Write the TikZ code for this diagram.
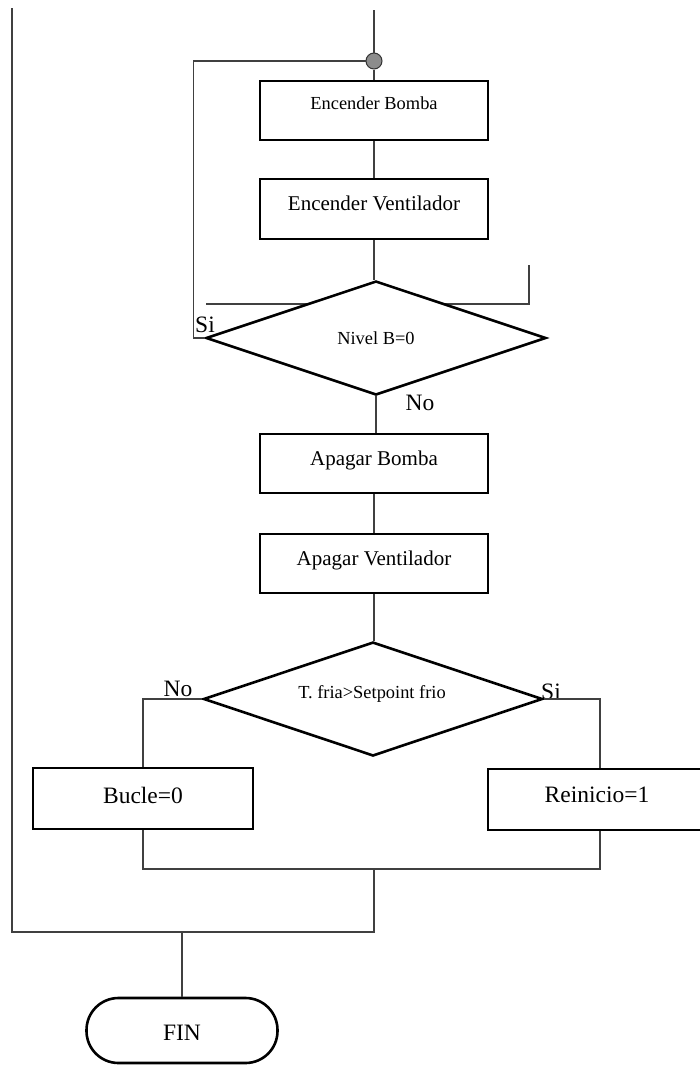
\documentclass[tikz,border=0pt]{standalone}
\usepackage{fontspec}
\setmainfont{Liberation Serif}
\usetikzlibrary{shapes.geometric}
\tikzset{
  box/.style={draw=black, line width=2.6pt, fill=white, inner sep=0pt, minimum width=228pt, minimum height=59pt},
  dec/.style={diamond, draw=black, line width=2.6pt, fill=white, inner sep=0pt, minimum width=340pt, minimum height=114pt, shape aspect=2.98},
  term/.style={draw=black, line width=2.6pt, fill=white, inner sep=0pt, rounded corners=32pt, minimum width=191pt, minimum height=65pt},
  conn/.style={draw=black!75, line width=1.4pt},
  txt/.style={inner sep=0pt, anchor=center},
  fa/.style={txt, font=\fontsize{18.4}{20}\selectfont},
  fb/.style={txt, font=\fontsize{21}{24}\selectfont},
  fc/.style={txt, font=\fontsize{23.5}{26}\selectfont},
  junction/.style={circle, draw=black!80, line width=1pt, fill=black!45, minimum size=16pt, inner sep=0pt}
}
\begin{document}
\begin{tikzpicture}[x=1pt,y=-1pt]
\useasboundingbox (0,0) rectangle (700,1066);
\clip (0,0) rectangle (700,1066);

% free coordinates
\coordinate (top) at (374,10);
\coordinate (ha) at (206,304);
\coordinate (hb) at (529,304);
\coordinate (hc) at (529,265);
\coordinate (m) at (374,869);
\coordinate (j) at (374,932);
\coordinate (jl) at (12,932);
\coordinate (lt) at (12,8);

% line passing behind the first decision
\draw[conn] (ha) -- (hb) -- (hc);

% nodes
\node[junction] (dot) at (374,61) {};
\node[box] (eb) at (374,110.5) {};
\node[box, minimum height=60pt] (ev) at (374,209) {};
\node[dec] (d1) at (376,338) {};
\node[box] (ab) at (374,463.5) {};
\node[box] (av) at (374,563.5) {};
\node[dec, minimum width=339pt] (d2) at (373,699) {};
\node[box, minimum width=220pt, minimum height=61pt] (bu) at (143,798.5) {};
\node[box, minimum width=224pt, minimum height=61pt] (re) at (600,799.5) {};
\node[term] (fin) at (182,1030.5) {};

% texts
\node[fa] (ebt) at (374,103) {Encender Bomba};
\node[fb] (evt) at (374,203) {Encender Ventilador};
\node[fa] (d1t) at (376,338) {Nivel B=0};
\node[fb] (abt) at (374,460) {Apagar Bomba};
\node[fb] (avt) at (374,560) {Apagar Ventilador};
\node[fa] (d2t) at (372,694) {T. fria>Setpoint frio};
\node[fc] (but) at (143,795) {Bucle=0};
\node[fc] (ret) at (597,795) {Reinicio=1};
\node[fc] (fint) at (182,1033) {FIN};
\node[fc] (si1) at (205,325) {Si};
\node[fc] (no1) at (420,403) {No};
\node[fc] (no2) at (178,689) {No};
\node[fc] (si2) at (551,692) {Si};

% connectors
\draw[conn] (top) -- (dot.north);
\draw[conn] (dot.south) -- (eb.north);
\draw[conn] (eb.south) -- (ev.north);
\draw[conn] (ev.south) -- (ev.south |- d1.north);
\draw[conn] (d1.west) -- ++(-11,0) |- (dot.west);
\draw[conn] (d1.south) -- (d1.south |- ab.north);
\draw[conn] (ab.south) -- (av.north);
\draw[conn] (av.south) -- (av.south |- d2.north);
\draw[conn] (d2.west) -| (bu.north);
\draw[conn] (d2.east) -| (re.north);
\draw[conn] (bu.south) -- (bu.south |- m) -| (re.south);
\draw[conn] (m) -- (j) -- (jl) -- (lt);
\draw[conn] (fin.north |- j) -- (fin.north);
\end{tikzpicture}
\end{document}
